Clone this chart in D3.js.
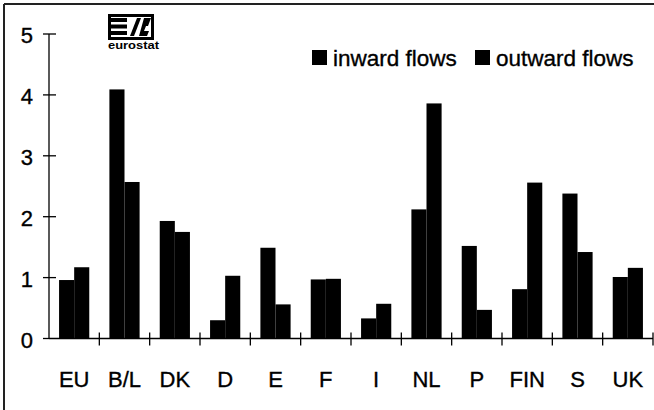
<!DOCTYPE html>
<html>
<head>
<meta charset="utf-8">
<script src="https://cdn.jsdelivr.net/npm/d3@7"></script>
<style>
  body { margin: 0; background: #fff; }
  svg { display: block; font-family: "Liberation Sans", Arial, sans-serif; }
  text { stroke: #000; stroke-width: 0.35; }
</style>
</head>
<body>
<div class="canvas"></div>
<script>
// data
const countries = ["EU", "B/L", "DK", "D", "E", "F", "I", "NL", "P", "FIN", "S", "UK"];
const inward = [0.96, 4.09, 1.93, 0.30, 1.49, 0.97, 0.33, 2.12, 1.52, 0.81, 2.38, 1.01];
const outward = [1.17, 2.57, 1.75, 1.03, 0.56, 0.98, 0.57, 3.86, 0.47, 2.56, 1.42, 1.16];
const seriesNames = ["inward flows", "outward flows"];
const yTicks = [0, 1, 2, 3, 4, 5];

const width = 654;
const height = 410;

const svg = d3
  .select(".canvas")
  .append("svg")
  .attr("width", width)
  .attr("height", height);

// frame (top and left edges only visible)
svg.append("line")
  .attr("x1", 4).attr("x2", width).attr("y1", 4).attr("y2", 4)
  .attr("stroke", "#222").attr("stroke-width", 2);
svg.append("line")
  .attr("x1", 4).attr("x2", 4).attr("y1", 4).attr("y2", height)
  .attr("stroke", "#222").attr("stroke-width", 2);

// scales
const x = d3.scaleBand()
  .domain(countries)
  .range([49, 653])
  .paddingInner(0.4)
  .paddingOuter(0.2);

const xSub = d3.scaleBand()
  .domain(seriesNames)
  .range([0, x.bandwidth()]);

const y = d3.scaleLinear().domain([0, 5]).range([338.5, 34]);

const rows = countries.map((c, i) => ({ country: c, values: [inward[i], outward[i]] }));

// bars
const groups = svg.append("g")
  .selectAll("g")
  .data(rows)
  .enter()
  .append("g")
  .attr("transform", (d) => `translate(${x(d.country)}, 0)`);

groups.selectAll("rect")
  .data((d) => d.values.map((v, j) => ({ key: seriesNames[j], value: v })))
  .enter()
  .append("rect")
  .attr("x", (d) => xSub(d.key))
  .attr("width", xSub.bandwidth())
  .attr("y", (d) => y(d.value))
  .attr("height", (d) => y(0) - y(d.value))
  .attr("fill", "#000");

// y axis
const axis = svg.append("g").attr("stroke", "#000").attr("stroke-width", 1.3);
axis.append("line")
  .attr("x1", 49).attr("x2", 49)
  .attr("y1", y(5)).attr("y2", y(0));
axis.selectAll(".ytick")
  .data(yTicks)
  .enter()
  .append("line")
  .attr("x1", 43)
  .attr("x2", (d) => (d === 0 ? 49 : 56))
  .attr("y1", (d) => y(d))
  .attr("y2", (d) => y(d));

svg.append("g")
  .selectAll("text")
  .data(yTicks)
  .enter()
  .append("text")
  .attr("x", 33)
  .attr("y", (d) => y(d))
  .attr("dy", "0.42em")
  .attr("text-anchor", "end")
  .attr("font-size", 22)
  .attr("fill", "#000")
  .text((d) => d);

// x axis
axis.append("line")
  .attr("x1", 49).attr("x2", 653)
  .attr("y1", y(0)).attr("y2", y(0));
axis.selectAll(".xtick")
  .data(d3.range(1, countries.length + 1))
  .enter()
  .append("line")
  .attr("x1", (k) => x.range()[0] + k * x.step())
  .attr("x2", (k) => x.range()[0] + k * x.step())
  .attr("y1", y(0) - 6)
  .attr("y2", y(0) + 7);

svg.append("g")
  .selectAll("text")
  .data(countries)
  .enter()
  .append("text")
  .attr("x", (d) => x(d) + x.bandwidth() / 2)
  .attr("y", 387)
  .attr("text-anchor", "middle")
  .attr("font-size", 22)
  .attr("fill", "#000")
  .text((d) => d);

// legend
const legendX = [312, 475];
const legend = svg.append("g")
  .selectAll("g")
  .data(seriesNames)
  .enter()
  .append("g")
  .attr("transform", (d, i) => `translate(${legendX[i]}, 50)`);
legend.append("rect")
  .attr("width", 15).attr("height", 15)
  .attr("fill", "#000");
legend.append("text")
  .attr("x", 21)
  .attr("y", 16)
  .attr("font-size", 22.5)
  .attr("fill", "#000")
  .text((d) => d);

// eurostat logo
const logo = svg.append("g").attr("transform", "translate(108, 14)");
logo.append("rect")
  .attr("x", 1.5).attr("y", 1.5).attr("width", 43).attr("height", 23)
  .attr("fill", "#fff").attr("stroke", "#000").attr("stroke-width", 3);
[4, 10.5, 17].forEach((yy) => {
  logo.append("rect").attr("x", 3).attr("y", yy).attr("width", 16).attr("height", 4).attr("fill", "#000");
});
logo.append("path").attr("d", "M22,22 L26,22 L33,4 L29,4 Z").attr("fill", "#000");
logo.append("path").attr("d", "M31,22 L39,22 L41,17 L36,17 L38,12 L40,12 L43,4 L36,4 Z").attr("fill", "#000");
logo.append("text")
  .attr("x", 0).attr("y", 35)
  .attr("font-size", 10)
  .attr("font-weight", "bold")
  .attr("textLength", 51)
  .attr("lengthAdjust", "spacingAndGlyphs")
  .attr("fill", "#000")
  .style("stroke", "none")
  .text("eurostat");
</script>
</body>
</html>
